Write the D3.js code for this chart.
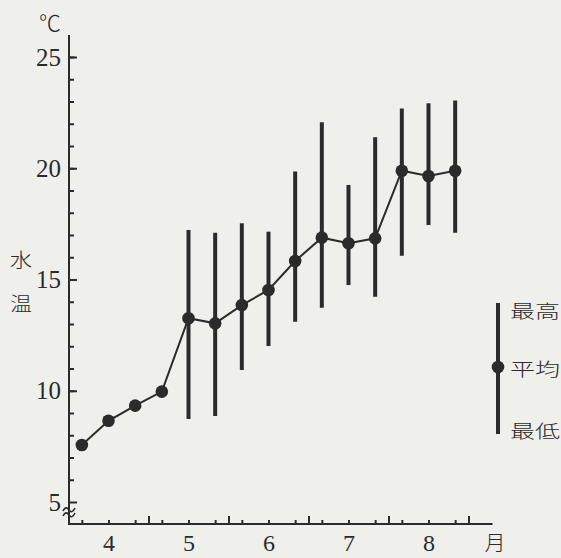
<!DOCTYPE html>
<html lang="ja">
<head>
<meta charset="UTF-8">
<title>水温</title>
<script src="https://d3js.org/d3.v7.min.js"></script>
<style>
  body { margin: 0; background: #efefec; }
  svg { display: block; }
</style>
</head>
<body>
<svg id="chart" width="561" height="558"></svg>
<script>
// ten-day periods (上旬/中旬/下旬) from April to August
const months = [4, 5, 6, 7, 8];
const periods = ["上旬", "中旬", "下旬"];
const meanTemp = [7.56, 8.65, 9.33, 9.96, 13.26, 13.03, 13.85, 14.53, 15.83, 16.88, 16.63, 16.85, 19.89, 19.65, 19.89];
const maxTemp = [null, null, null, null, 17.22, 17.10, 17.53, 17.15, 19.85, 22.07, 19.25, 21.39, 22.69, 22.92, 23.04];
const minTemp = [null, null, null, null, 8.73, 8.87, 10.93, 12.01, 13.10, 13.73, 14.75, 14.23, 16.07, 17.45, 17.10];
const yTickLabels = [5, 10, 15, 20, 25];
const legendLabels = ["最高", "平均", "最低"];

const ink = "#2b2b2b";
const serif = "'Liberation Serif', 'DejaVu Serif', serif";
const cjk = "'Noto Sans CJK JP', sans-serif";

const svg = d3.select("#chart");

const x = d3.scaleLinear().domain([4, 9.3]).range([68.5, 492.5]);
const y = d3.scaleLinear().domain([5, 25]).range([502, 57]);

const points = [];
months.forEach((m, i) => periods.forEach((p, j) => {
    const k = i * 3 + j;
    points.push({ t: m + (j + 0.5) / 3, mean: meanTemp[k], hi: maxTemp[k], lo: minTemp[k] });
}));

// text helper: scan is a bit wide, so stretch glyphs with textLength
function label(cx, cy, str, size, font, width) {
    const t = svg.append("text")
        .attr("x", cx).attr("y", cy)
        .attr("text-anchor", "middle")
        .attr("dominant-baseline", "central")
        .attr("font-family", font)
        .attr("font-size", size)
        .attr("font-weight", 300)
        .attr("fill", ink)
        .text(str);
    if (width) t.attr("textLength", width).attr("lengthAdjust", "spacingAndGlyphs");
    return t;
}

// y axis
const yAxis = svg.append("g").attr("transform", "translate(69,0)");
yAxis.call(d3.axisLeft(y).tickValues(d3.range(6, 26)).tickSize(-5).tickFormat(""));
yAxis.append("g").call(d3.axisLeft(y).tickValues(yTickLabels).tickSize(-8).tickPadding(8).tickFormat(d3.format("d")));
yAxis.selectAll(".domain").remove();
yAxis.selectAll("line").attr("stroke", ink).attr("stroke-width", 2);
yAxis.selectAll("text").attr("font-family", serif).attr("font-size", 25).attr("fill", ink);

// x axis
const xAxis = svg.append("g").attr("transform", "translate(0,524)");
xAxis.call(d3.axisBottom(x).tickValues(points.map(d => d.t)).tickSize(-4).tickFormat(""));
xAxis.append("g").call(d3.axisBottom(x).tickValues([5, 6, 7, 8, 9]).tickSize(-8).tickFormat(""));
xAxis.append("g").call(d3.axisBottom(x).tickValues(months.map(m => m + 0.5)).tickSize(0).tickPadding(10).tickFormat(d => Math.floor(d)));
xAxis.selectAll(".domain").remove();
xAxis.selectAll("line").attr("stroke", ink).attr("stroke-width", 2);
xAxis.selectAll("text").attr("font-family", serif).attr("font-size", 24).attr("fill", ink);

svg.append("path")
    .attr("d", "M69,35V524H492.5")
    .attr("fill", "none").attr("stroke", ink).attr("stroke-width", 2);

// axis break mark
svg.append("g").attr("fill", "none").attr("stroke", ink).attr("stroke-width", 1.6)
  .selectAll("path").data([509, 514]).join("path")
    .attr("d", d => `M63,${d + 2} c2,-4 4,-4 6,-1 s4,2 6,-2`);

label(50, 21, "℃", 22, cjk);
label(21, 258, "水", 19, cjk, 22);
label(21, 302, "温", 19, cjk, 22);
label(495, 541, "月", 21, cjk);

// min-max bars
svg.append("g").selectAll("line")
    .data(points.filter(d => d.hi != null)).join("line")
    .attr("x1", d => x(d.t)).attr("x2", d => x(d.t))
    .attr("y1", d => y(d.hi)).attr("y2", d => y(d.lo))
    .attr("stroke", ink).attr("stroke-width", 4);

svg.append("path").datum(points)
    .attr("d", d3.line().x(d => x(d.t)).y(d => y(d.mean)))
    .attr("fill", "none").attr("stroke", ink).attr("stroke-width", 2);

svg.append("g").selectAll("circle")
    .data(points).join("circle")
    .attr("cx", d => x(d.t)).attr("cy", d => y(d.mean))
    .attr("r", 6.3).attr("fill", ink);

// legend
svg.append("line").attr("x1", 498).attr("x2", 498).attr("y1", 303).attr("y2", 434)
    .attr("stroke", ink).attr("stroke-width", 4);
svg.append("circle").attr("cx", 498).attr("cy", 367).attr("r", 6.3).attr("fill", ink);
legendLabels.forEach((s, i) => label(535, [310, 368, 430][i], s, 18, cjk, 50));
</script>
</body>
</html>
